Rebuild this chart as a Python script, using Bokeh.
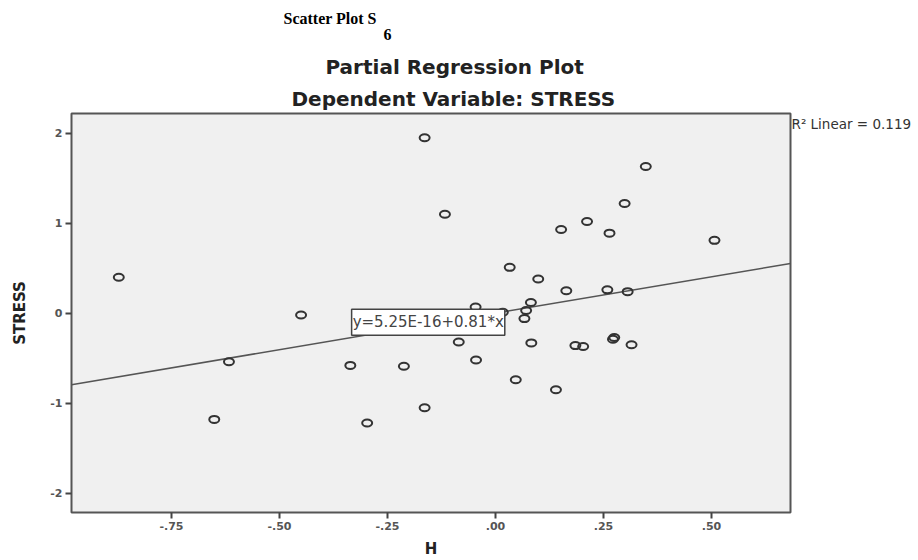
from bokeh.plotting import figure
from bokeh.models import (Range1d, FixedTicker, CustomJSTickFormatter, Label,
                          Title, LinearAxis)
from bokeh.embed import file_html
from bokeh.resources import INLINE

# ---- data ----
h_values = [-0.872, -0.164, -0.117, -0.450, -0.085, -0.617, -0.336, -0.212, -0.651,
            -0.297, -0.164, 0.348, 0.299, 0.212, 0.152, 0.264, 0.507, 0.033,
            0.099, 0.164, 0.259, 0.306, 0.082, -0.046, 0.017, 0.071, 0.067,
            0.083, 0.185, 0.203, 0.272, 0.275, 0.315, -0.045, 0.047, 0.140]
stress_values = [0.40, 1.95, 1.10, -0.02, -0.32, -0.54, -0.58, -0.59, -1.18,
                 -1.22, -1.05, 1.63, 1.22, 1.02, 0.93, 0.89, 0.81, 0.51,
                 0.38, 0.25, 0.26, 0.24, 0.12, 0.07, 0.01, 0.03, -0.06,
                 -0.33, -0.36, -0.37, -0.29, -0.27, -0.35, -0.52, -0.74, -0.85]
x_ticks = [-0.75, -0.50, -0.25, 0.00, 0.25, 0.50]
y_ticks = [-2, -1, 0, 1, 2]
fit_intercept = 5.25e-16
fit_slope = 0.81
r_squared = 0.119

x_lo, x_hi = -0.9815, 0.683
y_lo, y_hi = -2.215, 2.22

p = figure(width=918, height=560, output_backend="svg", toolbar_location=None,
           x_range=Range1d(x_lo, x_hi), y_range=Range1d(y_lo, y_hi),
           min_border_left=71, min_border_right=128, min_border_top=113,
           min_border_bottom=48)
p.background_fill_color = "#f0f0f0"
p.border_fill_color = "white"
p.outline_line_color = "#555555"
p.outline_line_width = 2
p.xgrid.visible = False
p.ygrid.visible = False

for ax in (p.xaxis[0], p.yaxis[0]):
    ax.axis_line_color = None
    ax.major_tick_line_color = "#444444"
    ax.major_tick_line_width = 2
    ax.major_tick_in = 0
    ax.major_tick_out = 6
    ax.minor_tick_line_color = None
    ax.major_label_text_font = "DejaVu Sans"
    ax.major_label_text_font_size = "11px"
    ax.major_label_text_font_style = "bold"
    ax.major_label_text_color = "#555555"
    ax.major_label_standoff = 3
    ax.axis_label_text_font = "DejaVu Sans"
    ax.axis_label_text_font_size = "15px"
    ax.axis_label_text_font_style = "bold"
    ax.axis_label_text_color = "#222222"

p.xaxis.ticker = FixedTicker(ticks=x_ticks)
p.yaxis.ticker = FixedTicker(ticks=y_ticks)
p.xaxis.formatter = CustomJSTickFormatter(
    code="return tick.toFixed(2).replace('0.', '.');")
p.yaxis.formatter = CustomJSTickFormatter(code="return tick.toFixed(0);")
p.xaxis.axis_label = "H"
p.yaxis.axis_label = "STRESS"
p.xaxis.axis_label_standoff = 7
p.yaxis.axis_label_standoff = 18

# regression line across the x range
fit_x = [x_lo, x_hi]
fit_y = [fit_intercept + fit_slope * v for v in fit_x]
p.line(fit_x, fit_y, line_color="#555555", line_width=1.5)

# points
p.ellipse(x=h_values, y=stress_values, width=10, height=7,
          width_units="screen", height_units="screen",
          fill_color=None, line_color="#333333", line_width=2)

# equation box
p.add_layout(Label(x=-0.333, y=-0.10, x_units="data", y_units="data",
                   text="y=%.2fE-16+%.2f*x" % (fit_intercept * 1e16, fit_slope),
                   text_font="DejaVu Sans", text_font_size="15px",
                   text_color="#444444", text_align="left",
                   text_baseline="middle",
                   background_fill_color="white", border_line_color="#444444",
                   border_line_width=1.5, padding=(1, 4)))

# R squared note at the top right, outside the frame
r2_text = "R\u00b2 Linear = %.3f" % r_squared
r2_axis = LinearAxis(ticker=FixedTicker(ticks=[y_hi - 0.112]),
                     formatter=CustomJSTickFormatter(args=dict(label=r2_text),
                                                     code="return label;"),
                     axis_line_color=None, major_tick_line_color=None,
                     minor_tick_line_color=None, major_tick_out=0,
                     major_tick_in=0, major_label_standoff=1,
                     major_label_text_font="DejaVu Sans",
                     major_label_text_font_size="13.5px",
                     major_label_text_color="#333333")
p.add_layout(r2_axis, "right")

# titles (stacked outward from the frame)
p.add_layout(Title(text="Dependent Variable: STRESS", align="left", offset=220,
                   standoff=5, text_font="DejaVu Sans", text_font_size="20px",
                   text_font_style="bold", text_color="#222222"), "above")
p.add_layout(Title(text="Partial Regression Plot", align="left", offset=254,
                   standoff=8, text_font="DejaVu Sans", text_font_size="20px",
                   text_font_style="bold", text_color="#222222"), "above")
p.add_layout(Title(text="6", align="left", offset=312, standoff=17,
                   text_font="Liberation Serif", text_font_size="16px",
                   text_font_style="bold", text_color="black"), "above")
p.add_layout(Title(text="Scatter Plot S", align="left", offset=212,
                   standoff=-16, text_font="Liberation Serif",
                   text_font_size="16px", text_font_style="bold",
                   text_color="black"), "above")

open("out.html", "w").write(file_html(p, INLINE))
